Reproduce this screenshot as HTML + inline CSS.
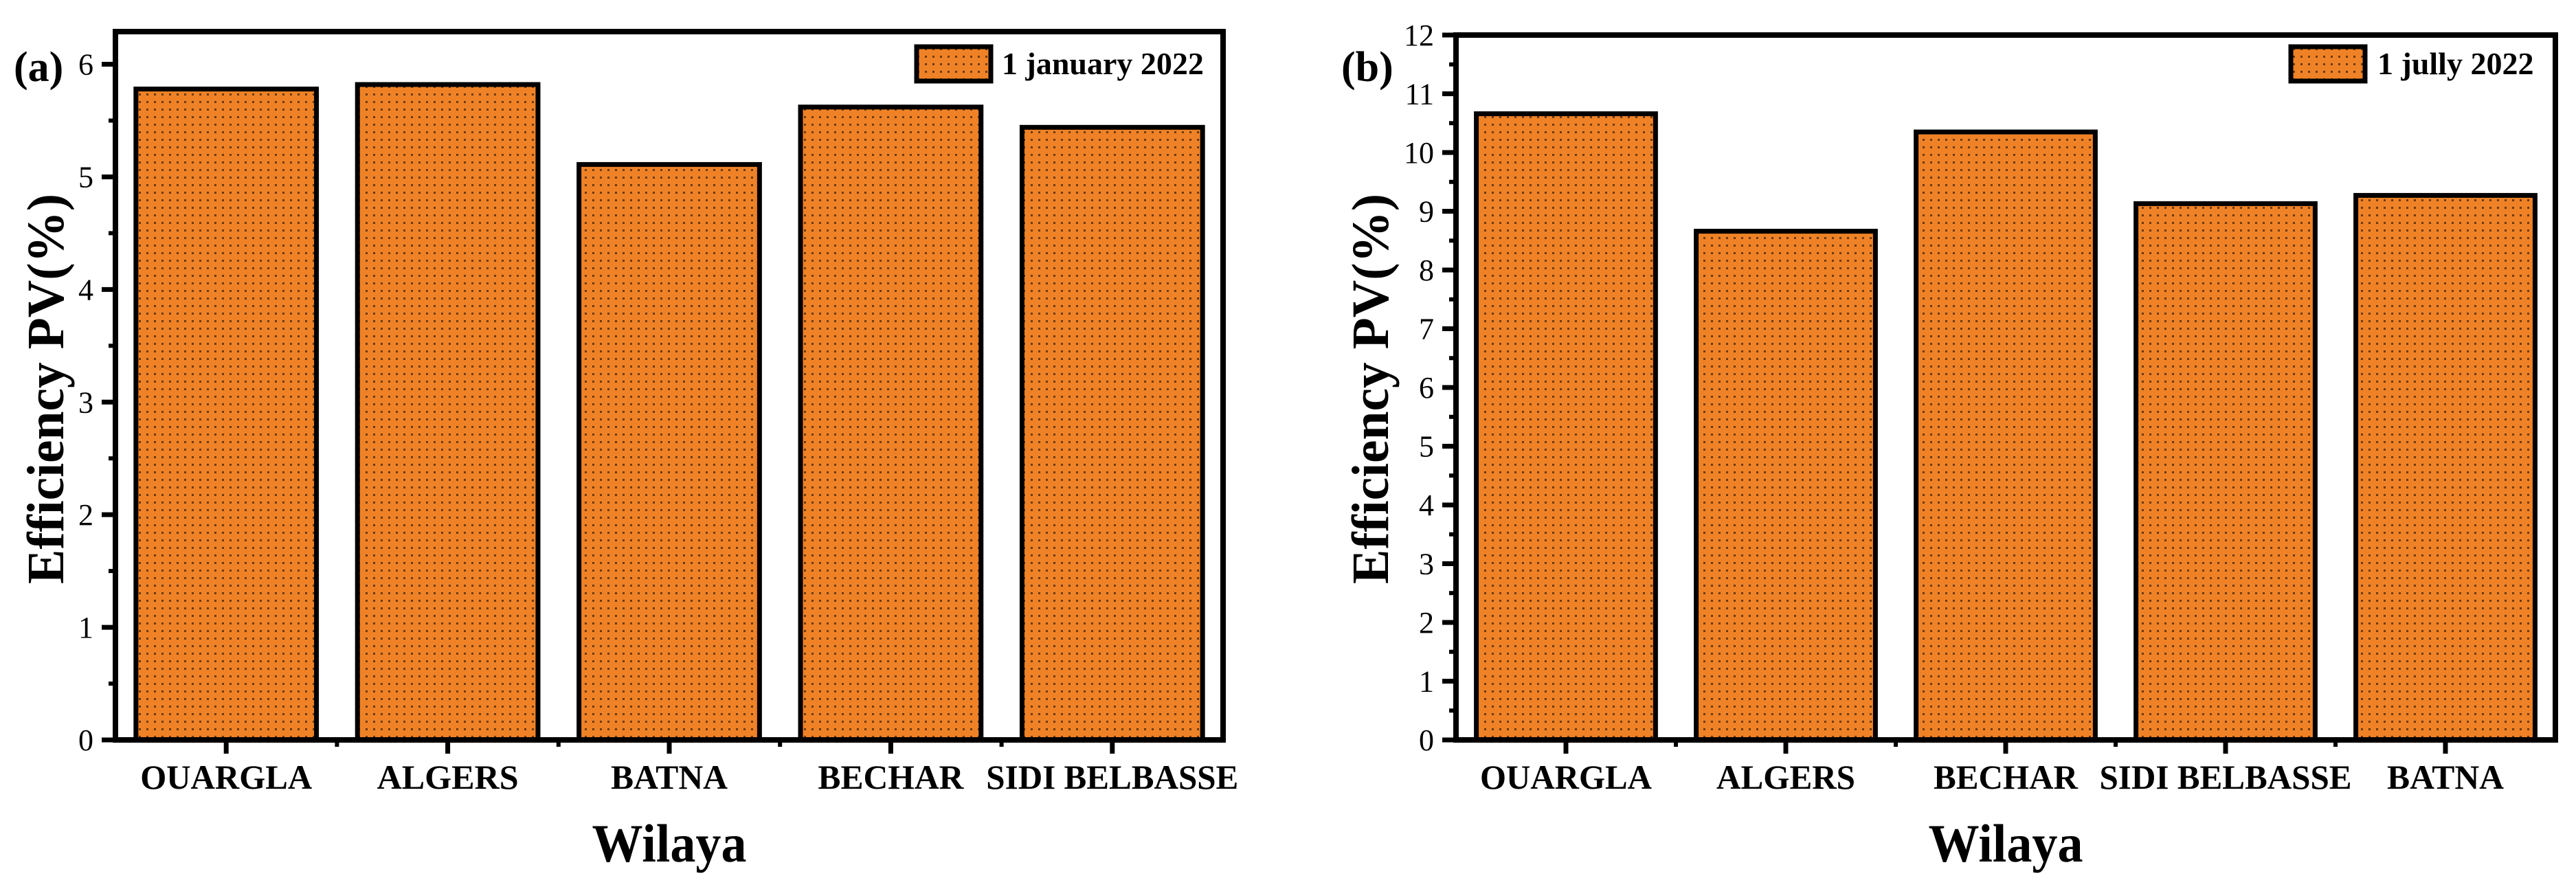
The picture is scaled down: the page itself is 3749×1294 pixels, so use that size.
<!DOCTYPE html>
<html><head><meta charset="utf-8"><style>
html,body{margin:0;padding:0;background:#fff}
svg{display:block}
text{font-family:"Liberation Serif",serif;font-weight:bold;fill:#000}
</style></head><body>
<svg id="fig" width="3749" height="1294" viewBox="0 0 3749 1294" xmlns="http://www.w3.org/2000/svg">
<defs>
<pattern id="dots" width="11" height="11" patternUnits="userSpaceOnUse">
<rect width="11" height="11" fill="#ef8226"/>
<rect x="4" y="4" width="3" height="3" fill="#6a3a12"/>
</pattern>
</defs>
<g id="panelA"></g>
<g id="panelB"></g>
</svg>
<script>
const catsA = ["OUARGLA","ALGERS","BATNA","BECHAR","SIDI BELBASSE"];
const valsA = [5.78,5.82,5.11,5.62,5.44];
const ticksA = [0,1,2,3,4,5,6];
const catsB = ["OUARGLA","ALGERS","BECHAR","SIDI BELBASSE","BATNA"];
const valsB = [10.66,8.66,10.35,9.13,9.27];
const ticksB = [0,1,2,3,4,5,6,7,8,9,10,11,12];
const NS="http://www.w3.org/2000/svg";
function mk(parent,tag,attrs,txt){const e=document.createElementNS(NS,tag);for(const k in attrs)e.setAttribute(k,attrs[k]);if(txt!==undefined)e.textContent=txt;parent.appendChild(e);return e;}
function drawPanel(g,cfg){
  const {x0,x1,y0,y1,ymax,cats,vals,ticks,legend,tag,tagX,titleX,legBox,legTextX,catW}=cfg;
  const n=cats.length, slot=(x1-x0)/n;
  const xs=i=>x0+slot*(i+0.5);
  const ys=v=>y0-(v/ymax)*(y0-y1);
  const bw=slot*0.815;
  cats.forEach((c,i)=>{
    const r=mk(g,'rect',{x:xs(i)-bw/2,y:ys(vals[i]),width:bw,height:y0-ys(vals[i]),fill:'url(#dots)',stroke:'#000','stroke-width':7});
    
    
    const t=mk(g,'text',{x:xs(i),y:1148,'font-size':50,'text-anchor':'middle',textLength:catW[i],lengthAdjust:'spacingAndGlyphs'},c);
    
    
    mk(g,'line',{x1:xs(i),y1:y0,x2:xs(i),y2:y0+20,stroke:'#000','stroke-width':7});
    if(i>0) mk(g,'line',{x1:x0+slot*i,y1:y0,x2:x0+slot*i,y2:y0+10,stroke:'#000','stroke-width':6});
  });
  const fr=mk(g,'rect',{x:x0,y:y1,width:x1-x0,height:y0-y1,fill:'none',stroke:'#000','stroke-width':8});
  
  
  ticks.forEach((v,k)=>{
    mk(g,'line',{x1:x0-20,y1:ys(v),x2:x0,y2:ys(v),stroke:'#000','stroke-width':7});
    if(k<ticks.length-1) mk(g,'line',{x1:x0-10,y1:ys(v+0.5),x2:x0,y2:ys(v+0.5),stroke:'#000','stroke-width':6});
    const t=mk(g,'text',{x:x0-32,y:ys(v)+15,'font-size':44,'text-anchor':'end','font-weight':'normal'},String(v));
    t.style.fontWeight='normal';
    
    
  });
  const yt=mk(g,'text',{x:0,y:0,'font-size':76,'text-anchor':'middle',transform:`translate(${titleX},566) rotate(-90)`,textLength:568,lengthAdjust:'spacingAndGlyphs'},'Efficiency PV(%)');
  
  
  const xt=mk(g,'text',{x:(x0+x1)/2,y:1254,'font-size':78,'text-anchor':'middle',textLength:225,lengthAdjust:'spacingAndGlyphs'},'Wilaya');
  
  
  const pl=mk(g,'text',{x:tagX,y:118,'font-size':62},tag);
  
  
  const lg=mk(g,'g',{});
  
  
  const lb=mk(lg,'rect',{x:legBox,y:68,width:108,height:50,fill:'url(#dots)',stroke:'#000','stroke-width':7});
  
  
  const lt=mk(lg,'text',{x:legTextX,y:108,'font-size':46},legend);
  
  
}
drawPanel(document.getElementById('panelA'),{x0:168,x1:1780,y0:1077,y1:46,ymax:6.29,cats:catsA,vals:valsA,ticks:ticksA,legend:'1 january 2022',tag:'(a)',tagX:20,titleX:92,legBox:1334,legTextX:1458,catW:[250,206,170,212,367]});
drawPanel(document.getElementById('panelB'),{x0:2119,x1:3719,y0:1077,y1:51,ymax:12,cats:catsB,vals:valsB,ticks:ticksB,legend:'1 jully 2022',tag:'(b)',tagX:1952,titleX:2020,legBox:3334,legTextX:3460,catW:[250,202,210,367,170]});
</script>
</body></html>
